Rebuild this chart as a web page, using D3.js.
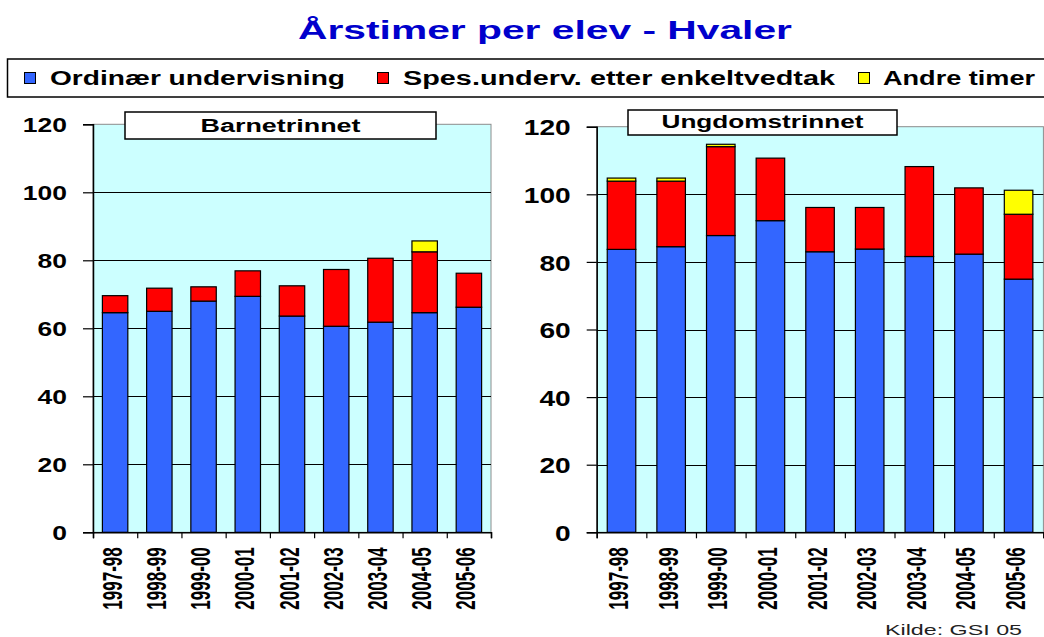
<!DOCTYPE html>
<html>
<head>
<meta charset="utf-8">
<script src="https://cdn.jsdelivr.net/npm/d3@7"></script>
<style>
  html, body { margin: 0; padding: 0; background: #ffffff; }
  svg { display: block; }
  text { font-family: "Liberation Sans", Arial, sans-serif; }
</style>
</head>
<body>
<svg id="chart" width="1044" height="637"></svg>
<script>
// ---------------- data ----------------
const chartTitle = "Årstimer per elev - Hvaler";
const seriesNames = ["Ordinær undervisning", "Spes.underv. etter enkeltvedtak", "Andre timer"];
const seriesColors = ["#3366FF", "#FF0000", "#FFFF00"];
const categories = ["1997-98", "1998-99", "1999-00", "2000-01", "2001-02", "2002-03", "2003-04", "2004-05", "2005-06"];
const yTicks = [0, 20, 40, 60, 80, 100, 120];

const barnOrdinaer = [64.6, 65.0, 68.0, 69.4, 63.6, 60.6, 61.8, 64.6, 66.2];
const barnSpes     = [5.0, 6.8, 4.2, 7.5, 8.9, 16.7, 18.8, 17.9, 10.0];
const barnAndre    = [0, 0, 0, 0, 0, 0, 0, 3.2, 0];

const ungOrdinaer  = [83.7, 84.5, 87.8, 92.2, 83.0, 83.8, 81.6, 82.3, 74.9];
const ungSpes      = [20.2, 19.4, 26.3, 18.5, 13.1, 12.3, 26.6, 19.6, 19.2];
const ungAndre     = [0.9, 0.9, 0.7, 0, 0, 0, 0, 0, 7.1];

const panelNames = ["Barnetrinnet", "Ungdomstrinnet"];
const sourceNote = "Kilde: GSI 05";

// ---------------- layout ----------------
const svg = d3.select("#chart");
const keys = ["ord", "spes", "andre"];

function rows(a, b, c) {
  return categories.map((cat, i) => ({ cat, ord: a[i], spes: b[i], andre: c[i] }));
}

const panels = [
  { name: panelNames[0], data: rows(barnOrdinaer, barnSpes, barnAndre),
    x0: 93, x1: 491, yTop: 124.3, yBot: 532.3, fs: 21, lblScale: 1.26,
    box: [125, 112, 436, 139], tBase: 131.5, tLen: 160 },
  { name: panelNames[1], data: rows(ungOrdinaer, ungSpes, ungAndre),
    x0: 596.7, x1: 1043.4, yTop: 126.7, yBot: 532.3, fs: 22.5, lblScale: 1.25,
    box: [628, 110, 897, 135], tBase: 128, tLen: 202 }
];

// Title
svg.append("text")
  .attr("x", 298).attr("y", 39)
  .attr("font-size", 25).attr("font-weight", "bold")
  .attr("fill", "#0000CC")
  .attr("textLength", 494).attr("lengthAdjust", "spacingAndGlyphs")
  .text(chartTitle);

// Legend
const lg = svg.append("g");
lg.append("rect").attr("x", 7.5).attr("y", 59).attr("width", 1050).attr("height", 38)
  .attr("fill", "#fff").attr("stroke", "#000").attr("stroke-width", 1.5);
const legendItems = [
  { sq: 24, tx: 50, len: 295 },
  { sq: 377, tx: 403, len: 432 },
  { sq: 858, tx: 883, len: 152 }
];
legendItems.forEach((it, i) => {
  lg.append("rect").attr("x", it.sq + 0.5).attr("y", 72.5).attr("width", 11).attr("height", 11)
    .attr("fill", seriesColors[i]).attr("stroke", "#000").attr("stroke-width", 1);
  lg.append("text").attr("x", it.tx).attr("y", 84.5)
    .attr("font-size", 20).attr("font-weight", "bold").attr("fill", "#000")
    .attr("textLength", it.len).attr("lengthAdjust", "spacingAndGlyphs")
    .text(seriesNames[i]);
});

const stack = d3.stack().keys(keys);

panels.forEach(p => {
  const g = svg.append("g");
  const x = d3.scaleBand().domain(categories).range([p.x0, p.x1]).padding(0);
  const xIdx = d3.scaleLinear().domain([0, categories.length]).range([p.x0, p.x1]);
  const y = d3.scaleLinear().domain([0, 120]).range([p.yBot, p.yTop]);

  // plot background
  g.append("rect").attr("x", p.x0).attr("y", p.yTop)
    .attr("width", p.x1 - p.x0).attr("height", p.yBot - p.yTop)
    .attr("fill", "#CCFFFF").attr("stroke", "#8c8c8c").attr("stroke-width", 1);

  // gridlines
  g.selectAll("line.grid").data(yTicks.filter(t => t > 0 && t < 120)).join("line")
    .attr("class", "grid")
    .attr("x1", p.x0).attr("x2", p.x1)
    .attr("y1", d => Math.round(y(d)) + 0.5).attr("y2", d => Math.round(y(d)) + 0.5)
    .attr("stroke", "#000").attr("stroke-width", 1);

  // bars
  const series = stack(p.data);
  const bw = x.bandwidth() * 0.575;
  series.forEach((s, si) => {
    g.selectAll("rect.s" + si).data(s.filter(d => d[1] - d[0] > 0)).join("rect")
      .attr("class", "s" + si)
      .attr("x", d => x(d.data.cat) + (x.bandwidth() - bw) / 2)
      .attr("width", bw)
      .attr("y", d => y(d[1]))
      .attr("height", d => y(d[0]) - y(d[1]))
      .attr("fill", seriesColors[si])
      .attr("stroke", "#000").attr("stroke-width", 1.2);
  });

  // y axis
  const ya = g.append("g").attr("transform", `translate(${p.x0},0)`)
    .call(d3.axisLeft(y).tickValues(yTicks).tickSize(10).tickPadding(0).tickFormat(d3.format("d")));
  ya.select(".domain").attr("stroke", "#000").attr("stroke-width", 1.5);
  ya.selectAll(".tick line").attr("stroke", "#000").attr("stroke-width", 1.2);
  ya.selectAll(".tick text")
    .attr("x", null).attr("dy", null)
    .attr("font-size", p.fs).attr("font-weight", "bold").attr("fill", "#000")
    .attr("font-family", '"Liberation Sans", Arial, sans-serif')
    .attr("text-anchor", "end")
    .attr("transform", `translate(-26,${p.fs * 0.36}) scale(${p.lblScale},1)`);

  // x axis: boundary ticks
  const xb = g.append("g").attr("transform", `translate(0,${p.yBot})`)
    .call(d3.axisBottom(xIdx).tickValues(d3.range(categories.length + 1)).tickSize(6).tickFormat(""));
  xb.select(".domain").attr("stroke", "#000").attr("stroke-width", 1.5);
  xb.selectAll(".tick line").attr("stroke", "#000").attr("stroke-width", 1.2);

  // x axis: category labels (rotated)
  const xl = g.append("g").attr("transform", `translate(0,${p.yBot})`)
    .call(d3.axisBottom(x).tickSize(0).tickPadding(0));
  xl.select(".domain").remove();
  xl.selectAll(".tick text")
    .attr("y", null).attr("dy", null)
    .attr("font-size", 17).attr("font-weight", "bold").attr("fill", "#000")
    .attr("font-family", '"Liberation Sans", Arial, sans-serif')
    .attr("text-anchor", "end")
    .attr("transform", "translate(6.5,15) scale(1.62,1) rotate(-90)");

  // panel title box
  const [bx0, by0, bx1, by1] = p.box;
  g.append("rect").attr("x", bx0).attr("y", by0).attr("width", bx1 - bx0).attr("height", by1 - by0)
    .attr("fill", "#fff").attr("stroke", "#000").attr("stroke-width", 1.5);
  g.append("text").attr("x", (bx0 + bx1) / 2).attr("y", p.tBase)
    .attr("text-anchor", "middle").attr("font-size", 18).attr("font-weight", "bold").attr("fill", "#000")
    .attr("textLength", p.tLen).attr("lengthAdjust", "spacingAndGlyphs")
    .text(p.name);
});

// source note
svg.append("text").attr("x", 885).attr("y", 635)
  .attr("font-size", 15).attr("fill", "#222")
  .attr("textLength", 137).attr("lengthAdjust", "spacingAndGlyphs")
  .text(sourceNote);
</script>
</body>
</html>
